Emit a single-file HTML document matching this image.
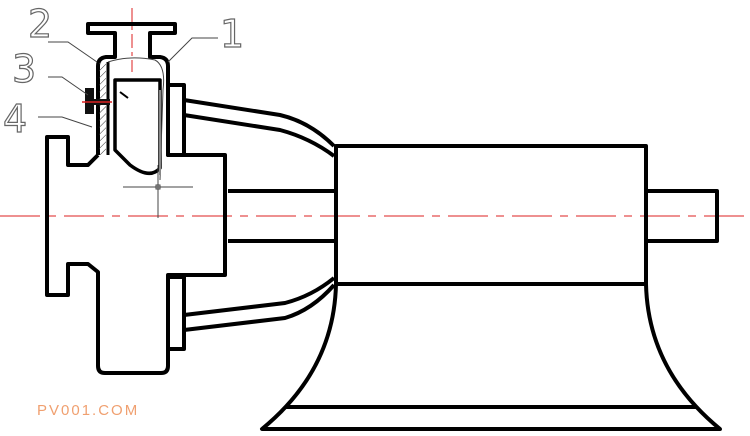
<!DOCTYPE html>
<html><head><meta charset="utf-8"><style>html,body{margin:0;padding:0;background:#fff}svg{display:block}</style></head>
<body>
<svg width="750" height="436" viewBox="0 0 750 436" xmlns="http://www.w3.org/2000/svg">
<defs>
<pattern id="h" width="5" height="5" patternUnits="userSpaceOnUse" patternTransform="rotate(45)"><line x1="0" y1="0" x2="0" y2="5" stroke="#333" stroke-width="1"/></pattern>
</defs>
<line x1="0" y1="216" x2="750" y2="216" stroke="#d22" stroke-width="1" stroke-dasharray="40,8,8,8"/>
<line x1="132" y1="8" x2="132" y2="72" stroke="#d22" stroke-width="1" stroke-dasharray="14,4,4,4"/>
<g fill="none" stroke="#000" stroke-width="4" stroke-linejoin="round">
<rect x="336" y="146" width="310" height="138"/>
<rect x="646" y="191" width="71" height="50"/>
<line x1="228" y1="191" x2="336" y2="191"/>
<line x1="228" y1="241" x2="336" y2="241"/>
<path d="M336,284 Q334,370 262,429 L720,429 Q648,370 646,284"/>
<line x1="285" y1="407" x2="697" y2="407"/>
<path d="M184,100 L280,115 Q310,122 334,146"/>
<path d="M184,115 L280,130 Q310,138 334,156"/>
<path d="M184,330 L285,318 Q312,310 334,285"/>
<path d="M184,315 L285,303 Q312,296 334,278"/>
<rect x="168" y="85" width="16" height="70"/>
<rect x="168" y="277" width="16" height="72"/>
<path d="M98,155 L98,66 Q98,58 106,57 L115,57 L115,33 L88,33 L88,24 L175,24 L175,33 L150,33 L150,57 L160,57 Q168,58 168,66 L168,155 L225,155 L225,275 L168,275 L168,366 Q168,373 161,373 L105,373 Q98,373 98,366 L98,272 L88,264 L68,264 L68,295 L47,295 L47,137 L68,137 L68,165 L88,165 L98,155"/>
<path d="M115,80 L160,80 L160,168 Q150,180 130,165 L115,150 Z" stroke-width="3.5"/>
<line x1="108" y1="62" x2="108" y2="155" stroke-width="3"/>
</g>
<rect x="99" y="62" width="7" height="93" fill="url(#h)"/>
<path d="M108,62 Q130,55 155,60 Q166,66 163,90 L160,180" fill="none" stroke="#444" stroke-width="1"/>
<line x1="160" y1="90" x2="160" y2="175" stroke="#888" stroke-width="2"/>
<line x1="120" y1="92" x2="128" y2="98" stroke="#000" stroke-width="2"/>
<rect x="85" y="88" width="9" height="26" fill="#111"/>
<rect x="94" y="99" width="16" height="6" fill="#111"/>
<line x1="82" y1="102" x2="112" y2="102" stroke="#d22" stroke-width="1.5"/>
<line x1="123" y1="187" x2="193" y2="187" stroke="#444" stroke-width="1"/>
<line x1="158" y1="165" x2="158" y2="218" stroke="#444" stroke-width="1"/>
<rect x="156" y="185" width="4" height="4" fill="none" stroke="#444" stroke-width="1"/>
<g fill="none" stroke="#444" stroke-width="1">
<path d="M48,42 L68,42 L97,62"/>
<path d="M218,38 L192,38 L168,62"/>
<path d="M48,77 L62,77 L88,95"/>
<path d="M38,117 L62,117 L92,127"/>
</g>
<g font-family="'DejaVu Sans','Liberation Sans',sans-serif" font-size="38" fill="none" stroke="#666" stroke-width="1.2">
<text x="28" y="37">2</text>
<text x="220" y="47">1</text>
<text x="12" y="82">3</text>
<text x="3" y="132">4</text>
</g>
<text x="37" y="415" font-family="'Liberation Sans',sans-serif" font-size="15" letter-spacing="2" fill="#f0a070">PV001.COM</text>
</svg>
</body></html>
